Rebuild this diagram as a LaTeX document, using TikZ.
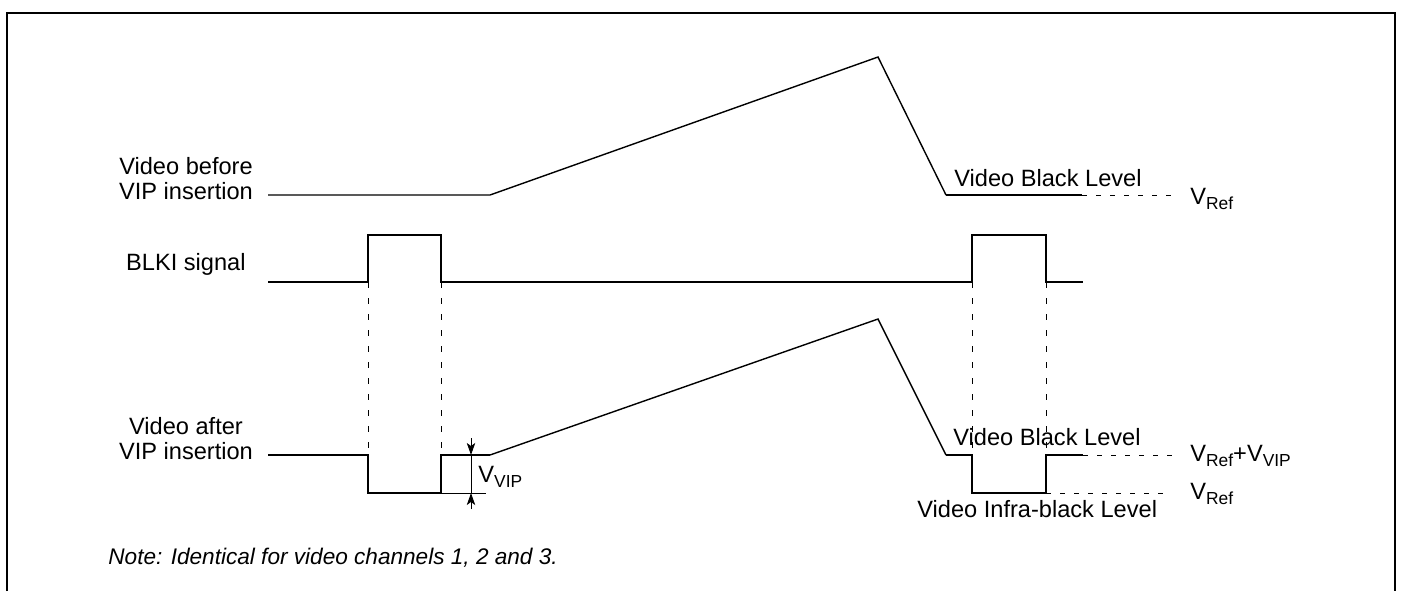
\documentclass[tikz,border=0pt]{standalone}
\usepackage{fontspec}
\setmainfont{Liberation Sans}
\usetikzlibrary{arrows.meta}
\newcommand{\lowsub}[1]{\raisebox{-2.5pt}{\fontsize{8.7}{10}\selectfont #1}}
\begin{document}
\begin{tikzpicture}[x=0.5pt,y=-0.5pt,
  every node/.style={font=\fontsize{11.8}{12.5}\selectfont, inner sep=0pt},
  frame/.style={line width=1.3pt},
  wave/.style={line width=1.1pt, line join=miter},
  ramp/.style={line width=0.7pt, line join=miter},
  guide/.style={line width=0.4pt, dash pattern=on 3pt off 5pt},
  level/.style={line width=0.4pt, dash pattern=on 2.5pt off 4.5pt},
  dim/.style={line width=0.5pt},
  dimtip/.style={-{Stealth[length=6pt,width=4.2pt,inset=1.5pt]}}]
\useasboundingbox (0,0) rectangle (1401,591);
% frame
\draw[frame] (7,591) -- (7,13) -- (1395,13) -- (1395,591);

% key coordinates
\coordinate (b0) at (268,195);
\coordinate (b1) at (490,195);
\coordinate (bpk) at (878,57);
\coordinate (b2) at (946,195);
\coordinate (b3) at (1082,195);
\coordinate (b4) at (1172,195);

\coordinate (k0) at (268,282);
\coordinate (k1) at (368,282);
\coordinate (k2) at (368,235);
\coordinate (k3) at (441,235);
\coordinate (k4) at (441,282);
\coordinate (k5) at (972,282);
\coordinate (k6) at (972,235);
\coordinate (k7) at (1046,235);
\coordinate (k8) at (1046,282);
\coordinate (k9) at (1083,282);

\coordinate (a0) at (268,455);
\coordinate (a1) at (368,455);
\coordinate (a2) at (368,493);
\coordinate (a3) at (441,493);
\coordinate (a4) at (441,455);
\coordinate (a5) at (490,455);
\coordinate (apk) at (878,319);
\coordinate (a6) at (946,455);
\coordinate (a7) at (972,455);
\coordinate (a8) at (972,493);
\coordinate (a9) at (1046,493);
\coordinate (a10) at (1046,455);
\coordinate (a11) at (1083,455);
\coordinate (a12) at (1172,455);
\coordinate (a13) at (1172,493);

% video before
\draw[ramp] (b0) -- (b1) -- (bpk) -- (b2);
\draw[wave] (b2) -- (b3);
\draw[level] (b3) -- (b4);

% BLKI
\draw[wave] (k0) -- (k1) -- (k2) -- (k3) -- (k4) -- (k5) -- (k6) -- (k7) -- (k8) -- (k9);

% guides
\draw[guide] (k1) -- (a1);
\draw[guide] (k4) -- (a4);
\draw[guide] (k5) -- (a7);
\draw[guide] (k8) -- (a10);

% video after
\draw[wave] (a0) -- (a1) -- (a2) -- (a3) -- (a4) -- (a5);
\draw[ramp] (a5) -- (apk) -- (a6);
\draw[wave] (a6) -- (a7) -- (a8) -- (a9) -- (a10) -- (a11);
\draw[level] (a11) -- (a12);
\draw[level] (a9) -- (a13);

% dimension V_VIP
\coordinate (d0) at (471,438);
\coordinate (d1) at (471,455);
\coordinate (d2) at (471,493);
\coordinate (d3) at (471,509);
\coordinate (e1) at (486,493);
\draw[dim] (a3) -- (e1);
\draw[dim] (d1) -- (d2);
\draw[dim,dimtip] (d0) -- (d1);
\draw[dim,dimtip] (d3) -- (d2);

% labels
\node[align=center] (lbefore) at (186,179) {Video before\\VIP insertion};
\node[anchor=base east] (lblki) at (246,270) {BLKI signal};
\node[align=center] (lafter) at (186,439) {Video after\\VIP insertion};
\node[anchor=base west] (lblack1) at (954,186) {Video Black Level};
\node[anchor=base west] (lblack2) at (953,445) {Video Black Level};
\node[anchor=base west] (linfra) at (917,517) {Video Infra-black Level};
\node[anchor=base west] (lref1) at (1190,204) {V\lowsub{Ref}};
\node[anchor=base west] (lref2) at (1190,461) {V\lowsub{Ref}+V\lowsub{VIP}};
\node[anchor=base west] (lref3) at (1190,499) {V\lowsub{Ref}};
\node[anchor=base west] (lvip) at (478,482) {V\lowsub{VIP}};
\node[anchor=base west, font=\fontsize{11.3}{12.5}\selectfont\itshape] (lnote) at (108,564) {Note: Identical for video channels 1, 2 and 3.};
\end{tikzpicture}
\end{document}
